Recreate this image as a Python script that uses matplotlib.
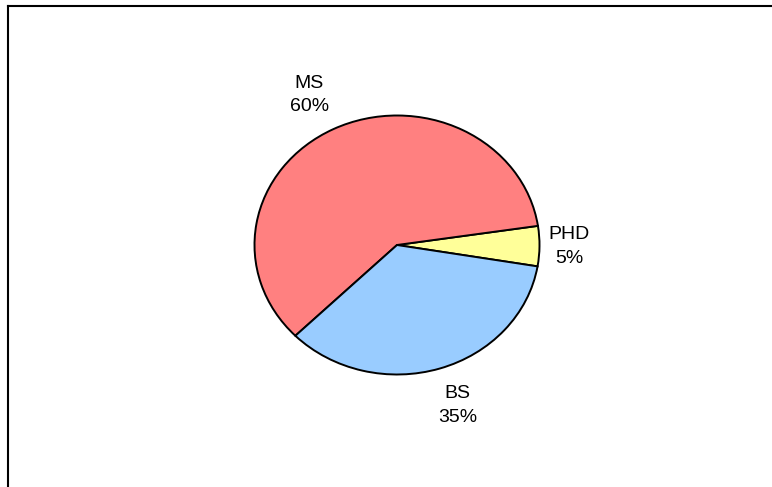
import matplotlib
matplotlib.use("Agg")
import matplotlib.pyplot as plt
from matplotlib.lines import Line2D
import numpy as np

categories = ["PHD", "MS", "BS"]
values = [5, 60, 35]
colors = ["#FFFF99", "#FF8080", "#99CCFF"]

W, H = 772, 487
fig = plt.figure(figsize=(W / 100, H / 100), dpi=100)
fig.patch.set_facecolor("white")

# Elliptical pie: axes box in pixels (center 397,245; radii 142.5 x 129.5)
cx, cy, rx, ry = 397, 245, 142.5, 129.5
ax = fig.add_axes([(cx - rx) / W, (H - cy - ry) / H, 2 * rx / W, 2 * ry / H])
start = -9.5
wedges, _ = ax.pie(values, colors=colors, startangle=start, counterclock=True,
                   wedgeprops=dict(edgecolor="black", linewidth=1.4),
                   radius=1.0)
ax.set_aspect("auto")
ax.set_xlim(-1, 1)
ax.set_ylim(-1, 1)
ax.axis("off")

# Labels outside each wedge (distance and small angular nudge per label)
total = sum(values)
label_dist = [1.21, 1.31, 1.31]
label_nudge = [0, 1.5, 1.5]
angle = start
for cat, v, d, nudge in zip(categories, values, label_dist, label_nudge):
    span = 360 * v / total
    mid = np.deg2rad(angle + span / 2 + nudge)
    angle += span
    ax.text(d * np.cos(mid), d * np.sin(mid), f"{cat}\n{v / total * 100:.0f}%",
            ha="center", va="center", fontsize=14, family="Liberation Sans",
            linespacing=1.5, clip_on=False)

# Chart area border (top and left edges)
fig.add_artist(Line2D([7.5 / W, 7.5 / W], [0, 1 - 5.5 / H], color="black",
                      linewidth=1.5, transform=fig.transFigure))
fig.add_artist(Line2D([7.5 / W, 1], [1 - 5.5 / H, 1 - 5.5 / H], color="black",
                      linewidth=1.5, transform=fig.transFigure))

fig.savefig("out.png", dpi=100, facecolor="white")
